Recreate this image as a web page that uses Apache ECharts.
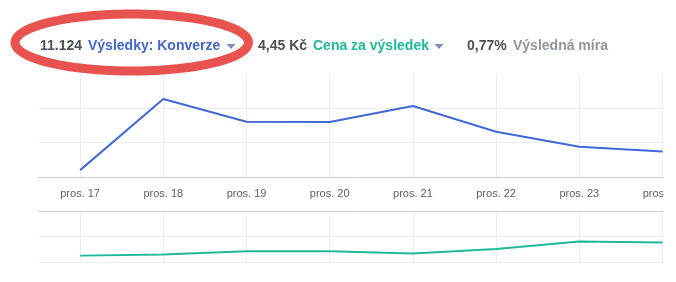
<!DOCTYPE html>
<html>
<head>
<meta charset="utf-8">
<script src="https://cdn.jsdelivr.net/npm/echarts@6/dist/echarts.min.js"></script>
<style>
html,body{margin:0;padding:0;background:#fff;}
#c{width:676px;height:282px;}
</style>
</head>
<body>
<div id="c"></div>
<script>
// ---- data ----
const categories = ['pros. 17', 'pros. 18', 'pros. 19', 'pros. 20', 'pros. 21', 'pros. 22', 'pros. 23', 'pros. 24'];
const results = [200, 2270, 1610, 1600, 2070, 1320, 880, 740];
const costPerResult = [2.5, 2.9, 4.2, 4.2, 3.3, 5.1, 8.0, 7.6];
const resultsTicks = [0, 1000, 2000, 3000];
const costTicks = [0, 10, 20];
const headerValues = ['11.124', '4,45 Kč', '0,77%'];
const headerLabels = ['Výsledky: Konverze', 'Cena za výsledek', 'Výsledná míra'];

// ---- styles ----
const FONT = '"Liberation Sans", Arial, sans-serif';
const BLUE = '#4168d6';
const GREEN = '#1fb99a';
const DARK = '#4b4f56';
const GREY = '#90949c';
const GRID = '#ebedf0';
const AXIS = '#ccd0d5';
const TRI = '#7d8db6';

const chart = echarts.init(document.getElementById('c'), null, {renderer: 'canvas'});

function txt(x, y, s, color) {
  return {type: 'text', x: x, y: y, z: 50,
    style: {text: s, fill: color, font: 'bold 14px ' + FONT, textVerticalAlign: 'middle', verticalAlign: 'middle'}};
}
function tri(x, y) {
  return {type: 'polygon', z: 50, shape: {points: [[x, y], [x + 9, y], [x + 4.5, y + 5]]}, style: {fill: TRI}};
}
// decorative hand-drawn ellipse
const ell = [];
for (let i = 0; i < 96; i++) {
  const a = i / 96 * Math.PI * 2;
  ell.push([131.75 + 116.75 * Math.cos(a), 42.5 + 28.5 * Math.sin(a)]);
}

const xBase = {
  type: 'category',
  data: categories,
  boundaryGap: true,
  axisTick: {show: false},
  splitLine: {show: true, alignWithLabel: true, lineStyle: {color: GRID, width: 1}},
};

chart.setOption({
  animation: false,
  grid: [
    {left: 38.5, width: 665.6, top: 74, height: 103, outerBoundsMode: 'none', containLabel: false},
    {left: 38.5, width: 665.6, top: 211, height: 51, outerBoundsMode: 'none', containLabel: false}
  ],
  xAxis: [
    Object.assign({}, xBase, {gridIndex: 0, position: 'bottom',
      axisLine: {show: true, onZero: false, lineStyle: {color: AXIS, width: 1}},
      axisLabel: {show: true, color: '#5d6169', fontSize: 11, fontFamily: FONT, margin: 11, interval: 0, hideOverlap: false}}),
    Object.assign({}, xBase, {gridIndex: 1, position: 'top',
      axisLine: {show: true, onZero: false, lineStyle: {color: AXIS, width: 1}},
      axisLabel: {show: false}})
  ],
  yAxis: [
    {type: 'value', gridIndex: 0, min: resultsTicks[0], max: resultsTicks[resultsTicks.length - 1], interval: 1000,
      axisLine: {show: false}, axisTick: {show: false}, axisLabel: {show: false},
      splitLine: {show: true, showMaxLine: false, lineStyle: {color: GRID}}},
    {type: 'value', gridIndex: 1, min: costTicks[0], max: costTicks[costTicks.length - 1], interval: 10,
      axisLine: {show: false}, axisTick: {show: false}, axisLabel: {show: false},
      splitLine: {show: true, showMaxLine: false, lineStyle: {color: GRID}}}
  ],
  series: [
    {type: 'line', xAxisIndex: 0, yAxisIndex: 0, data: results, symbol: 'none',
      lineStyle: {color: BLUE, width: 2}, z: 5},
    {type: 'line', xAxisIndex: 1, yAxisIndex: 1, data: costPerResult, symbol: 'none',
      lineStyle: {color: GREEN, width: 2}, z: 5}
  ],
  graphic: [
    {type: 'rect', z: 40, shape: {x: 663.5, y: 60, width: 20, height: 230}, style: {fill: '#fff'}},
    txt(40, 46, headerValues[0], DARK),
    txt(88, 46, headerLabels[0], '#4267c9'),
    tri(226.5, 44),
    txt(258, 46, headerValues[1], DARK),
    txt(313, 46, headerLabels[1], GREEN),
    tri(434.5, 44),
    txt(467, 46, headerValues[2], DARK),
    txt(513, 46, headerLabels[2], GREY),
    {type: 'polygon', z: 60, shape: {points: ell}, style: {fill: null, stroke: '#e8524f', lineWidth: 9}}
  ]
});
</script>
</body>
</html>
